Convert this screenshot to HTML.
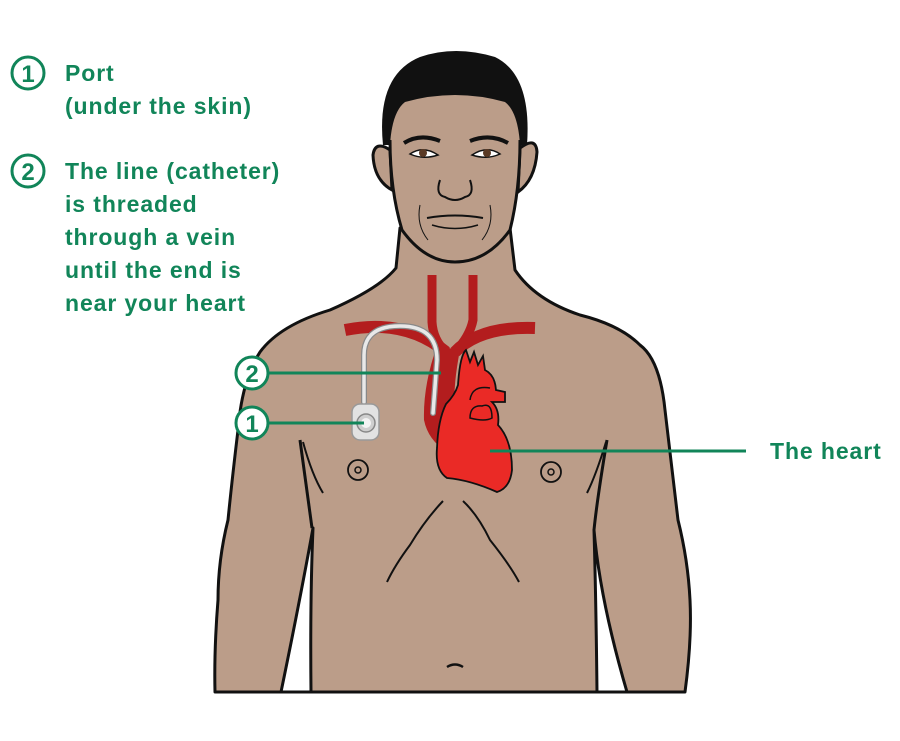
<!DOCTYPE html>
<html><head><meta charset="utf-8"><style>
html,body{margin:0;padding:0;background:#fff;}
svg{display:block;}
text{font-family:"Liberation Sans",sans-serif;fill:#118559;font-weight:bold;}
</style></head><body>
<svg width="900" height="741" viewBox="0 0 900 741" xmlns="http://www.w3.org/2000/svg">
<rect width="900" height="741" fill="#fff"/>
<!-- body -->
<path d="M400,228 L396,268 Q380,288 330,310 Q280,325 260,352 Q242,380 238,430 Q232,480 228,520 Q218,560 218,600 Q214,650 215,692 L685,692 Q692,640 690,600 Q688,560 678,520 Q672,470 665,410 Q660,360 640,345 Q620,325 580,315 Q535,300 515,270 L510,228 Z" fill="#bb9d89" stroke="#111" stroke-width="3" stroke-linejoin="round"/>
<path d="M313,528 Q300,600 281,692 L311,692 Q310,600 313,528 Z" fill="#fff" stroke="#111" stroke-width="3" stroke-linejoin="round"/>
<path d="M594,530 Q600,600 627,692 L597,692 Q596,600 594,530 Z" fill="#fff" stroke="#111" stroke-width="3" stroke-linejoin="round"/>
<path d="M300,440 Q308,500 312,528" fill="none" stroke="#111" stroke-width="3"/>
<path d="M607,440 Q597,500 594,530" fill="none" stroke="#111" stroke-width="3"/>
<path d="M303,442 Q312,475 323,493" fill="none" stroke="#111" stroke-width="2"/>
<path d="M606,442 Q596,475 587,493" fill="none" stroke="#111" stroke-width="2"/>
<path d="M443,501 Q425,520 410,545 Q395,565 387,582" fill="none" stroke="#111" stroke-width="2"/>
<path d="M463,501 Q478,515 490,540 Q510,565 519,582" fill="none" stroke="#111" stroke-width="2"/>
<path d="M447,667 Q455,662 463,667" fill="none" stroke="#111" stroke-width="2.5"/>
<circle cx="358" cy="470" r="10" fill="none" stroke="#111" stroke-width="1.8"/>
<circle cx="358" cy="470" r="3" fill="none" stroke="#111" stroke-width="1.5"/>
<circle cx="551" cy="472" r="10" fill="none" stroke="#111" stroke-width="1.8"/>
<circle cx="551" cy="472" r="3" fill="none" stroke="#111" stroke-width="1.5"/>
<!-- hair (behind) -->
<path d="M383,145 Q376,75 420,57 Q455,45 495,57 Q532,75 527,145 Z" fill="#111"/>
<!-- ears -->
<path d="M390,150 Q375,140 373,155 Q374,180 392,190 Z" fill="#bb9d89" stroke="#111" stroke-width="3"/>
<path d="M520,148 Q536,136 537,152 Q535,180 518,192 Z" fill="#bb9d89" stroke="#111" stroke-width="3"/>
<!-- face -->
<path d="M390,145 Q392,112 405,102 Q455,88 505,102 Q518,112 520,145 Q520,190 510,230 Q487,262 455,262 Q425,262 402,230 Q390,190 390,145 Z" fill="#bb9d89"/>
<path d="M390,140 Q390,190 402,230 Q425,262 455,262 Q487,262 510,230 Q520,190 520,140" fill="none" stroke="#111" stroke-width="3"/>
<path d="M404,143 Q420,133 440,141" fill="none" stroke="#111" stroke-width="4"/>
<path d="M470,141 Q490,133 508,143" fill="none" stroke="#111" stroke-width="4"/>
<path d="M410,154 Q423,145 438,155 Q423,160 410,154 Z" fill="#fff" stroke="#111" stroke-width="1.5"/>
<circle cx="423" cy="153" r="4" fill="#5a3a25"/>
<path d="M472,155 Q487,145 500,154 Q487,160 472,155 Z" fill="#fff" stroke="#111" stroke-width="1.5"/>
<circle cx="487" cy="153" r="4" fill="#5a3a25"/>
<path d="M440,180 Q435,195 445,197 Q455,203 465,197 Q475,195 470,180" fill="none" stroke="#111" stroke-width="2"/>
<path d="M427,218 Q455,213 483,218" fill="none" stroke="#111" stroke-width="2"/>
<path d="M432,225 Q455,232 478,225" fill="none" stroke="#111" stroke-width="1.5"/>
<path d="M420,205 Q416,225 428,240" fill="none" stroke="#111" stroke-width="1"/>
<path d="M490,205 Q494,225 482,240" fill="none" stroke="#111" stroke-width="1"/>
<!-- vessels -->
<g fill="none" stroke="#b31d1e" stroke-linecap="butt">
<path d="M432,275 L432,322 Q433,340 446,352" stroke-width="9"/>
<path d="M473,275 L473,320 Q470,336 455,352" stroke-width="9"/>
<path d="M345,330 Q405,318 446,352" stroke-width="12"/>
<path d="M535,328 Q480,326 455,352" stroke-width="12"/>
</g>
<path d="M437,346 L460,350 Q452,390 455,420 L447,452 Q428,440 424,420 Q423,385 437,346 Z" fill="#b31d1e"/>
<!-- heart -->
<path d="M458,385 Q460,355 466,350 L470,362 L474,352 L478,365 L483,356 L485,370 Q495,375 496,390 L505,392 L505,402 L492,402 Q500,410 498,425 Q512,440 512,470 Q510,488 497,492 Q470,480 447,478 Q435,470 437,448 Q438,420 446,404 Q455,395 458,385 Z" fill="#ea2a26" stroke="#111" stroke-width="1.8"/>
<path d="M470,400 Q472,385 490,388" fill="none" stroke="#111" stroke-width="1.5"/>
<path d="M470,418 Q470,405 482,406 Q492,402 492,418 Q485,422 470,418 Z" fill="#ea2a26" stroke="#111" stroke-width="1.5"/>
<!-- catheter -->
<path d="M364,402 L364,355 Q364,326 400,326 Q437,326 437,360 L433,413" fill="none" stroke="#888" stroke-width="6" stroke-linecap="round"/>
<path d="M364,402 L364,355 Q364,326 400,326 Q437,326 437,360 L433,413" fill="none" stroke="#e8e8e8" stroke-width="3.5" stroke-linecap="round"/>
<rect x="352" y="404" width="27" height="36" rx="8" fill="#e2e2e2" stroke="#999" stroke-width="1.5"/>
<circle cx="366" cy="423" r="9" fill="#cfcfcf" stroke="#888" stroke-width="1.5"/>
<circle cx="366" cy="423" r="5" fill="#f4f4f4"/>
<!-- callouts -->
<line x1="268" y1="373" x2="441" y2="373" stroke="#118559" stroke-width="3"/>
<line x1="268" y1="423" x2="364" y2="423" stroke="#118559" stroke-width="3"/>
<line x1="490" y1="451" x2="746" y2="451" stroke="#118559" stroke-width="3"/>
<circle cx="252" cy="373" r="16" fill="#fff" stroke="#118559" stroke-width="3"/>
<text x="252" y="382" font-size="24" text-anchor="middle">2</text>
<circle cx="252" cy="423" r="16" fill="#fff" stroke="#118559" stroke-width="3"/>
<text x="252" y="432" font-size="24" text-anchor="middle">1</text>
<circle cx="28" cy="73" r="16" fill="#fff" stroke="#118559" stroke-width="3"/>
<text x="28" y="82" font-size="24" text-anchor="middle">1</text>
<circle cx="28" cy="171" r="16" fill="#fff" stroke="#118559" stroke-width="3"/>
<text x="28" y="180" font-size="24" text-anchor="middle">2</text>
<g font-size="23" letter-spacing="0.9">
<text x="65" y="81">Port</text>
<text x="65" y="114">(under the skin)</text>
<text x="65" y="179">The line (catheter)</text>
<text x="65" y="212">is threaded</text>
<text x="65" y="245">through a vein</text>
<text x="65" y="278">until the end is</text>
<text x="65" y="311">near your heart</text>
<text x="770" y="459">The heart</text>
</g>
</svg>
</body></html>
